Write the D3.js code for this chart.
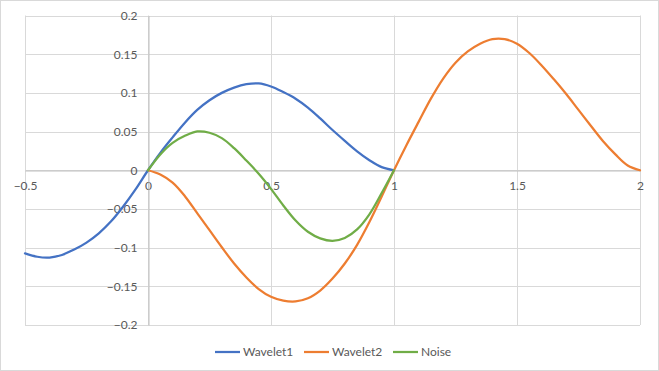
<!DOCTYPE html>
<html><head><meta charset="utf-8">
<script src="https://cdn.jsdelivr.net/npm/d3@7/dist/d3.min.js"></script>
<style>body{margin:0;background:#fff}svg{display:block}</style>
</head><body>
<svg id="c" width="659" height="371"></svg>
<script>
const seriesNames = ["Wavelet1", "Wavelet2", "Noise"];
const seriesColors = ["#4472C4", "#ED7D31", "#70AD47"];
const xTicks = [-0.5, 0, 0.5, 1, 1.5, 2];
const yTicks = [-0.2, -0.15, -0.1, -0.05, 0, 0.05, 0.1, 0.15, 0.2];

const wavelet1X = [-0.5, -0.45, -0.4, -0.35, -0.3, -0.25, -0.2, -0.15, -0.1, -0.05, 0, 0.05, 0.1, 0.15, 0.2, 0.25, 0.3, 0.35, 0.4, 0.45, 0.5, 0.55, 0.6, 0.65, 0.7, 0.75, 0.8, 0.85, 0.9, 0.95, 1.0];
const wavelet1Y = [-0.1075, -0.1118, -0.1128, -0.1095, -0.1025, -0.0935, -0.0815, -0.066, -0.0465, -0.0245, 0, 0.0225, 0.0425, 0.0615, 0.078, 0.0905, 0.1, 0.1068, 0.1112, 0.1122, 0.1082, 0.101, 0.0925, 0.081, 0.067, 0.052, 0.038, 0.0245, 0.013, 0.004, 0];

const wavelet2X = [0, 0.05, 0.1, 0.15, 0.2, 0.25, 0.3, 0.35, 0.4, 0.45, 0.5, 0.55, 0.6, 0.65, 0.7, 0.75, 0.8, 0.85, 0.9, 0.95, 1.0, 1.05, 1.1, 1.15, 1.2, 1.25, 1.3, 1.35, 1.4, 1.45, 1.5, 1.55, 1.6, 1.65, 1.7, 1.75, 1.8, 1.85, 1.9, 1.95, 2.0];
const wavelet2Y = [0, -0.0055, -0.016, -0.0335, -0.0555, -0.0775, -0.0995, -0.1205, -0.1385, -0.1535, -0.1635, -0.1685, -0.1695, -0.1655, -0.1555, -0.140, -0.1205, -0.0965, -0.067, -0.034, 0, 0.032, 0.0625, 0.0925, 0.1185, 0.139, 0.1535, 0.1635, 0.1695, 0.1695, 0.1635, 0.1515, 0.1355, 0.1175, 0.0985, 0.078, 0.0575, 0.0375, 0.0205, 0.0062, 0];

const noiseX = [0, 0.05, 0.1, 0.15, 0.2, 0.25, 0.3, 0.35, 0.4, 0.45, 0.5, 0.55, 0.6, 0.65, 0.7, 0.75, 0.8, 0.85, 0.9, 0.95, 1.0];
const noiseY = [0, 0.0205, 0.0355, 0.0445, 0.0502, 0.0485, 0.0415, 0.0285, 0.0125, -0.0045, -0.024, -0.0455, -0.065, -0.0795, -0.088, -0.0912, -0.0875, -0.0765, -0.057, -0.0295, 0];

const seriesX = [wavelet1X, wavelet2X, noiseX];
const seriesY = [wavelet1Y, wavelet2Y, noiseY];

const svg = d3.select("#c");
const W = 659, H = 371;
const font = "Lato, 'Open Sans', sans-serif";
const txt = "#595959";

svg.append("rect").attr("x", 0.5).attr("y", 0.5).attr("width", W - 1).attr("height", H - 1)
  .attr("fill", "#fff").attr("stroke", "#d9d9d9");

const x = d3.scaleLinear().domain([-0.5, 2]).range([25, 640]);
const y = d3.scaleLinear().domain([-0.2, 0.2]).range([325, 15.5]);

// gridlines
const grid = svg.append("g");
grid.selectAll("line.h").data(yTicks).join("line")
  .attr("x1", x(-0.5)).attr("x2", x(2))
  .attr("y1", d => Math.round(y(d)) + 0.5).attr("y2", d => Math.round(y(d)) + 0.5)
  .attr("stroke", "#d9d9d9").attr("stroke-width", 1);
grid.selectAll("line.v").data(xTicks).join("line")
  .attr("y1", y(0.2)).attr("y2", y(-0.2))
  .attr("x1", d => Math.round(x(d)) + 0.5).attr("x2", d => Math.round(x(d)) + 0.5)
  .attr("stroke", "#d9d9d9").attr("stroke-width", 1);

// axes through zero
const xAxis = d3.axisBottom(x).tickValues(xTicks).tickSize(0).tickFormat(d3.format("~g"));
const gx = svg.append("g").attr("transform", `translate(0,${Math.round(y(0)) + 0.5})`).call(xAxis);
gx.select(".domain").attr("stroke", "#bfbfbf");
gx.selectAll("text").attr("dy", "0").attr("y", 19).attr("fill", txt)
  .style("font-family", font).style("font-size", "12px");

const yAxis = d3.axisLeft(y).tickValues(yTicks).tickSize(0).tickFormat(d3.format("~g"));
const gy = svg.append("g").attr("transform", `translate(${Math.round(x(0)) + 0.5},0)`).call(yAxis);
gy.select(".domain").attr("stroke", "#bfbfbf");
gy.selectAll("text").attr("x", -11).attr("fill", txt)
  .style("font-family", font).style("font-size", "12px");

// lines
const line = d3.line().x(d => x(d[0])).y(d => y(d[1])).curve(d3.curveCatmullRom.alpha(0.5));
seriesNames.forEach((name, i) => {
  const pts = seriesX[i].map((v, j) => [v, seriesY[i][j]]);
  svg.append("path").datum(pts).attr("d", line)
    .attr("fill", "none").attr("stroke", seriesColors[i])
    .attr("stroke-width", 2.25).attr("stroke-linejoin", "round").attr("stroke-linecap", "round");
});

// legend
const legX = [215, 304, 393];
const leg = svg.append("g");
seriesNames.forEach((name, i) => {
  leg.append("line").attr("x1", legX[i]).attr("x2", legX[i] + 25)
    .attr("y1", 352).attr("y2", 352).attr("stroke", seriesColors[i]).attr("stroke-width", 2.25);
  leg.append("text").attr("x", legX[i] + 28).attr("y", 356).text(name)
    .attr("fill", txt).style("font-family", font).style("font-size", "12px");
});
</script>
</body></html>
